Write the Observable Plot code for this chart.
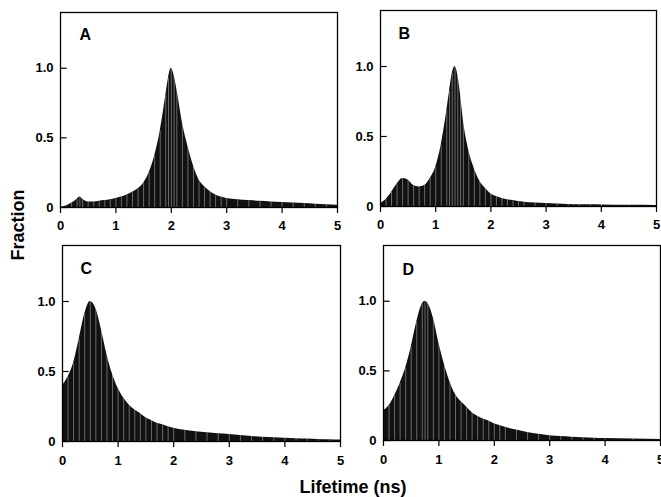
<!DOCTYPE html>
<html><head><meta charset="utf-8">
<script src="https://cdn.jsdelivr.net/npm/d3@7"></script>
<script src="https://cdn.jsdelivr.net/npm/@observablehq/plot@0.6"></script>
<style>
body{margin:0;background:#fff;}
#wrap{position:relative;width:661px;height:497px;overflow:hidden;font-family:"Liberation Sans",Arial,sans-serif;font-weight:bold;color:#000;}
.panel{position:absolute;}
.panel svg{overflow:visible;}
#ylab{position:absolute;left:18px;top:225px;transform:translate(-50%,-50%) rotate(-90deg);white-space:nowrap;font-size:18px;}
#xlab{position:absolute;left:353px;top:487px;transform:translate(-50%,-50%);white-space:nowrap;font-size:18px;}
</style>
</head><body>
<div id="wrap">
  <div id="pA" class="panel" style="left:0px;top:0px"></div>
  <div id="pB" class="panel" style="left:320px;top:0px"></div>
  <div id="pC" class="panel" style="left:0px;top:233px"></div>
  <div id="pD" class="panel" style="left:320px;top:233px"></div>
  <div id="ylab">Fraction</div>
  <div id="xlab">Lifetime (ns)</div>
</div>
<script>
// Lifetime (ns) and fraction values
const lifetimeA = [0,0.1,0.2,0.3,0.35,0.4,0.5,0.6,0.7,0.8,0.9,1.0,1.1,1.2,1.3,1.4,1.5,1.6,1.7,1.8,1.9,1.95,2.0,2.05,2.1,2.2,2.3,2.4,2.5,2.6,2.7,2.8,2.9,3.0,3.2,3.4,3.6,3.8,4.0,4.2,4.4,4.6,4.8,5.0];
const fractionA = [0,0.01,0.03,0.06,0.075,0.06,0.04,0.04,0.045,0.05,0.055,0.065,0.075,0.09,0.11,0.135,0.175,0.25,0.37,0.55,0.8,0.93,1.0,0.95,0.85,0.61,0.44,0.3,0.2,0.15,0.115,0.09,0.075,0.065,0.055,0.05,0.045,0.04,0.036,0.032,0.028,0.024,0.02,0.017];

const lifetimeB = [0,0.1,0.2,0.3,0.4,0.5,0.6,0.7,0.8,0.9,1.0,1.1,1.2,1.25,1.3,1.35,1.4,1.45,1.5,1.6,1.7,1.8,1.9,2.0,2.1,2.2,2.3,2.4,2.5,2.6,2.8,3.0,3.2,3.4,3.6,3.8,4.0,4.5,5.0];
const fractionB = [0.02,0.05,0.1,0.16,0.2,0.19,0.15,0.14,0.15,0.2,0.28,0.44,0.68,0.82,0.95,1.0,0.94,0.8,0.62,0.4,0.27,0.18,0.13,0.09,0.072,0.058,0.048,0.042,0.036,0.031,0.025,0.021,0.017,0.015,0.013,0.012,0.011,0.009,0.008];

const lifetimeC = [0,0.1,0.2,0.3,0.4,0.5,0.6,0.7,0.8,0.9,1.0,1.1,1.2,1.3,1.4,1.5,1.6,1.7,1.8,1.9,2.0,2.2,2.4,2.6,2.8,3.0,3.2,3.4,3.6,3.8,4.0,4.2,4.4,4.6,4.8,5.0];
const fractionC = [0.4,0.46,0.56,0.73,0.91,1.0,0.95,0.8,0.62,0.48,0.38,0.31,0.26,0.225,0.2,0.17,0.15,0.13,0.12,0.105,0.095,0.08,0.07,0.062,0.055,0.05,0.042,0.036,0.031,0.027,0.023,0.02,0.017,0.014,0.012,0.01];

const lifetimeD = [0,0.1,0.2,0.3,0.4,0.5,0.6,0.7,0.75,0.8,0.9,1.0,1.1,1.2,1.3,1.4,1.5,1.6,1.7,1.8,1.9,2.0,2.1,2.2,2.4,2.6,2.8,3.0,3.2,3.4,3.6,3.8,4.0,4.5,5.0];
const fractionD = [0.215,0.25,0.32,0.41,0.52,0.67,0.85,0.98,1.0,0.985,0.88,0.7,0.545,0.42,0.33,0.28,0.24,0.2,0.175,0.155,0.14,0.12,0.108,0.095,0.075,0.058,0.045,0.035,0.029,0.024,0.02,0.017,0.015,0.011,0.008];

const panelLabels = ["A","B","C","D"];
const xTicks = [0,1,2,3,4,5];
const yTicks = [0,0.5,1.0];

const FONT = '"Liberation Sans", Arial, Helvetica, sans-serif';

function panel(xs, ys, letter, g){
  const data = xs.map((x,i)=>({x, y: ys[i]}));
  return Plot.plot({
    width: g.width, height: g.height,
    marginLeft: g.ml, marginRight: g.mr, marginTop: g.mt, marginBottom: g.mb,
    x: {domain:[0,5]},
    y: {domain:[0,1.4]},
    style: {fontFamily: FONT, fontWeight: "bold", background: "transparent", overflow: "visible", color: "#000"},
    marks: [
      Plot.areaY(data, {x:"x", y:"y", curve:"monotone-x", fill:"#111"}),
      Plot.ruleX(data, {x:"x", y1:0, y2:"y", stroke:"#e6e6e6", strokeWidth:0.7, strokeOpacity:0.6}),
      Plot.frame({stroke:"#000", strokeWidth:1.3}),
      Plot.ruleY(yTicks, {y: d=>d, x1:0, x2:0.12, stroke:"#000", strokeWidth:1.2}),
      Plot.axisY({ticks: yTicks, tickSize:0, tickPadding:7, label:null, fontSize:13, fontWeight:"bold",
                  tickFormat: d => d === 0 ? "0" : d.toFixed(1)}),
      Plot.axisX({ticks: xTicks, tickSize:6, tickPadding:g.tp, label:null, fontSize:13, fontWeight:"bold",
                  strokeWidth:1.2, tickFormat: d => String(d)}),
      Plot.text([letter], {text: d=>d, frameAnchor:"top-left", dx:g.dx, dy:g.dy, fontSize:16, fontWeight:"bold"})
    ]
  });
}

document.getElementById("pA").append(panel(lifetimeA, fractionA, panelLabels[0],
  {width:340, height:236, ml:60, mr:3, mt:12, mb:29, tp:7, dx:19, dy:16}));
document.getElementById("pB").append(panel(lifetimeB, fractionB, panelLabels[1],
  {width:341, height:236, ml:60, mr:5, mt:10, mb:30, tp:7, dx:18, dy:17}));
document.getElementById("pC").append(panel(lifetimeC, fractionC, panelLabels[2],
  {width:342, height:240, ml:62, mr:2, mt:12, mb:32, tp:8, dx:18, dy:17}));
document.getElementById("pD").append(panel(lifetimeD, fractionD, panelLabels[3],
  {width:341, height:240, ml:63, mr:1, mt:12, mb:33, tp:8, dx:19, dy:18}));
</script>
</body></html>
